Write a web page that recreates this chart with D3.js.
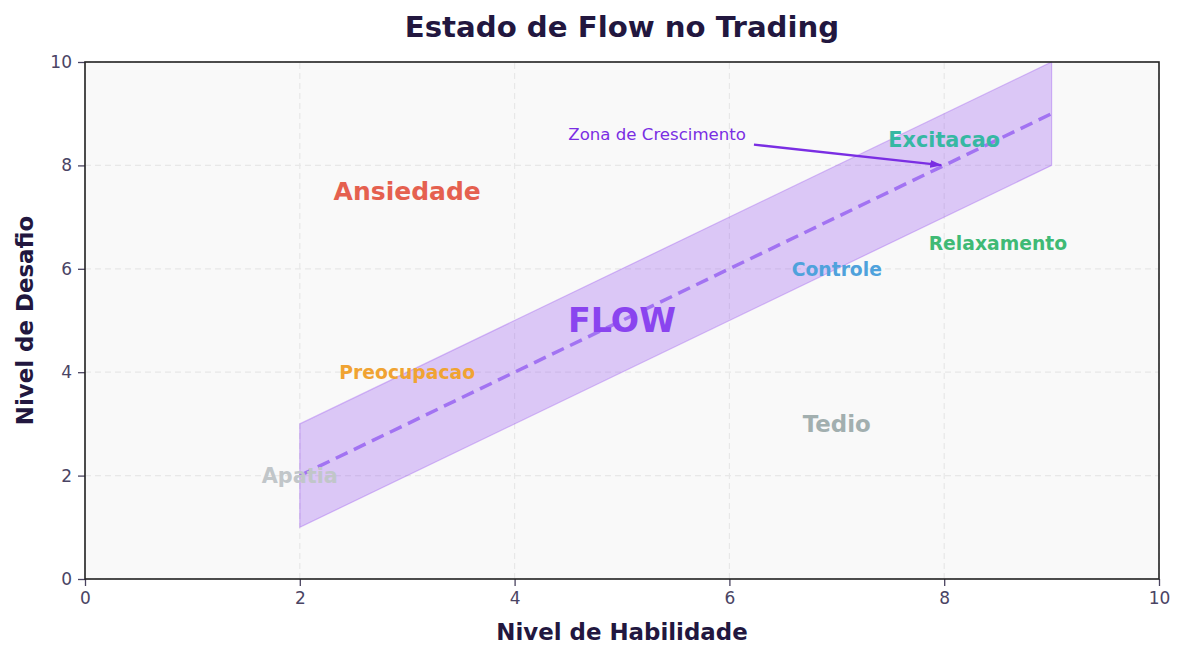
<!DOCTYPE html>
<html>
<head>
<meta charset="utf-8">
<script src="https://cdn.jsdelivr.net/npm/d3@7/dist/d3.min.js"></script>
<style>
  body { margin: 0; background: #fff; }
  svg { font-family: "DejaVu Sans", sans-serif; }
</style>
</head>
<body>
<div id="chart"></div>
<script>
// Flow channel: skill level vs. challenge (center line y = x, band +/- 1)
const bandX = [2, 9];
const bandCenter = [2, 9];
const bandLower = [1, 8];
const bandUpper = [3, 10];

const xTicks = [0, 2, 4, 6, 8, 10];
const yTicks = [0, 2, 4, 6, 8, 10];

// Zone labels
const zoneNames = ["Ansiedade", "Preocupacao", "Apatia", "FLOW", "Tedio", "Controle", "Relaxamento", "Excitacao"];
const zoneX = [3, 3, 2, 5, 7, 7, 8.5, 8];
const zoneY = [7.5, 4, 2, 5, 3, 6, 6.5, 8.5];
const zoneColors = ["#e5604f", "#f0a332", "#c1c6c9", "#8a44ef", "#a2afaf", "#4fa2dc", "#3fba75", "#36b8a3"];
const zoneSizes = [25, 18.75, 20.8, 33.3, 22.9, 18.75, 18.75, 20.8];

// Annotation
const noteText = "Zona de Crescimento";
const noteTextPos = [4.5, 8.5];
const noteTarget = [8, 8];

window.onload = () => {
  const width = 1185, height = 659;
  const margin = { left: 85, right: 26, top: 62, bottom: 80 };

  const svg = d3.select("#chart").append("svg")
    .attr("width", width)
    .attr("height", height);

  const x = d3.scaleLinear().domain([0, 10]).range([margin.left, width - margin.right]);
  const y = d3.scaleLinear().domain([0, 10]).range([height - margin.bottom, margin.top]);

  // Plot background
  svg.append("rect")
    .attr("x", x(0)).attr("y", y(10))
    .attr("width", x(10) - x(0))
    .attr("height", y(0) - y(10))
    .attr("fill", "#f9f9f9");

  // Grid
  const grid = svg.append("g");
  grid.selectAll(".gx").data(xTicks).enter().append("line")
    .attr("x1", d => x(d)).attr("x2", d => x(d))
    .attr("y1", y(0)).attr("y2", y(10))
    .attr("stroke", "#e8e8e8").attr("stroke-width", 1.2)
    .attr("stroke-dasharray", "6,4");
  grid.selectAll(".gy").data(yTicks).enter().append("line")
    .attr("y1", d => y(d)).attr("y2", d => y(d))
    .attr("x1", x(0)).attr("x2", x(10))
    .attr("stroke", "#e8e8e8").attr("stroke-width", 1.2)
    .attr("stroke-dasharray", "6,4");

  // Band
  const bandData = bandX.map((v, i) => ({ x: v, lo: bandLower[i], hi: bandUpper[i], c: bandCenter[i] }));
  const area = d3.area().x(d => x(d.x)).y0(d => y(d.lo)).y1(d => y(d.hi));
  svg.append("path")
    .datum(bandData)
    .attr("d", area)
    .attr("fill", "#9d5cf0")
    .attr("fill-opacity", 0.32)
    .attr("stroke", "#9d5cf0")
    .attr("stroke-opacity", 0.4)
    .attr("stroke-width", 1.2);

  // Center dashed line
  svg.append("path")
    .datum(bandData)
    .attr("d", d3.line().x(d => x(d.x)).y(d => y(d.c)))
    .attr("fill", "none")
    .attr("stroke", "#a273f2")
    .attr("stroke-width", 3.5)
    .attr("stroke-dasharray", "13,7");

  // Zone labels
  zoneNames.forEach((name, i) => {
    svg.append("text")
      .attr("x", x(zoneX[i]))
      .attr("y", y(zoneY[i]))
      .attr("dy", "0.36em")
      .attr("text-anchor", "middle")
      .style("font-size", zoneSizes[i] + "px")
      .style("font-weight", "bold")
      .attr("fill", zoneColors[i])
      .text(name);
  });

  // Annotation with arrow
  const defs = svg.append("defs");
  defs.append("marker")
    .attr("id", "arrow")
    .attr("viewBox", "0 0 12 10")
    .attr("refX", 11).attr("refY", 5)
    .attr("markerWidth", 12).attr("markerHeight", 10)
    .attr("markerUnits", "userSpaceOnUse")
    .attr("orient", "auto")
    .append("path")
    .attr("d", "M0,1 L12,5 L0,9 z")
    .attr("fill", "#7a2ee3");

  const note = svg.append("text")
    .attr("x", x(noteTextPos[0]))
    .attr("y", y(noteTextPos[1]))
    .style("font-size", "16.6px")
    .attr("fill", "#7a2ee3")
    .text(noteText);

  const bb = note.node().getBBox();
  const cx = bb.x + bb.width / 2, cy = bb.y + bb.height / 2;
  const tx = x(noteTarget[0]), ty = y(noteTarget[1]);
  const slope = (ty - cy) / (tx - cx);
  const ex = bb.x + bb.width;
  const ey = cy + (ex - cx) * slope;
  const ang = Math.atan2(ty - cy, tx - cx);
  svg.append("line")
    .attr("x1", ex + 8 * Math.cos(ang))
    .attr("y1", ey + 8 * Math.sin(ang))
    .attr("x2", tx - 3 * Math.cos(ang))
    .attr("y2", ty - 3 * Math.sin(ang))
    .attr("stroke", "#7a2ee3")
    .attr("stroke-width", 2.4)
    .attr("marker-end", "url(#arrow)");

  // Axes
  const xAxis = svg.append("g")
    .attr("transform", `translate(0, ${y(0)})`)
    .call(d3.axisBottom(x).tickValues(xTicks).tickSize(7).tickPadding(6));
  const yAxis = svg.append("g")
    .attr("transform", `translate(${x(0)}, 0)`)
    .call(d3.axisLeft(y).tickValues(yTicks).tickSize(7).tickPadding(6));

  [xAxis, yAxis].forEach(ax => {
    ax.select(".domain").remove();
    ax.selectAll(".tick line").attr("stroke", "#4a4460").attr("stroke-width", 1.3);
    ax.selectAll(".tick text")
      .attr("fill", "#4a4464")
      .style("font-size", "17px")
      .style("font-family", "DejaVu Sans, sans-serif");
  });

  // Spines
  svg.append("rect")
    .attr("x", x(0)).attr("y", y(10))
    .attr("width", x(10) - x(0))
    .attr("height", y(0) - y(10))
    .attr("fill", "none")
    .attr("stroke", "#222")
    .attr("stroke-width", 1.6);

  // Axis titles
  svg.append("text")
    .attr("x", (x(0) + x(10)) / 2)
    .attr("y", 640)
    .attr("text-anchor", "middle")
    .style("font-size", "22.9px")
    .style("font-weight", "bold")
    .attr("fill", "#22173f")
    .text("Nivel de Habilidade");

  svg.append("text")
    .attr("transform", `translate(33, ${(y(0) + y(10)) / 2}) rotate(-90)`)
    .attr("text-anchor", "middle")
    .style("font-size", "22.9px")
    .style("font-weight", "bold")
    .attr("fill", "#22173f")
    .text("Nivel de Desafio");

  // Chart title
  svg.append("text")
    .attr("x", (x(0) + x(10)) / 2)
    .attr("y", 37)
    .attr("text-anchor", "middle")
    .style("font-size", "29.2px")
    .style("font-weight", "bold")
    .attr("fill", "#22173f")
    .text("Estado de Flow no Trading");
};
</script>
</body>
</html>
